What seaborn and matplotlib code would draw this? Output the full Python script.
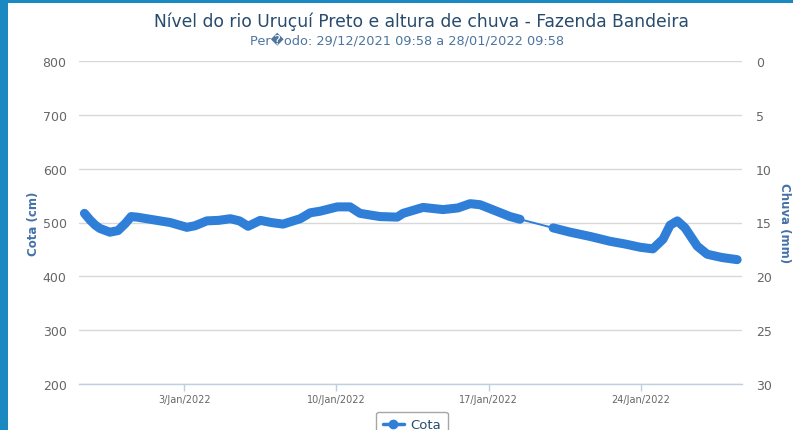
import matplotlib
matplotlib.use("Agg")
import pandas as pd
import seaborn as sns
import matplotlib.pyplot as plt
import matplotlib.dates as mdates
from matplotlib.patches import Rectangle
from matplotlib.lines import Line2D
from matplotlib.ticker import FuncFormatter

# ---- data ----
dates = [
    "2021-12-29 10:00", "2021-12-29 16:00", "2021-12-29 22:00", "2021-12-30 03:00",
    "2021-12-30 14:00", "2021-12-30 23:00", "2021-12-31 07:00", "2021-12-31 13:30",
    "2021-12-31 20:00", "2022-01-01 10:30", "2022-01-02 08:30", "2022-01-03 03:00",
    "2022-01-03 12:00", "2022-01-04 01:00", "2022-01-04 14:00", "2022-01-05 03:00",
    "2022-01-05 13:00", "2022-01-05 22:30", "2022-01-06 12:00", "2022-01-07 00:00",
    "2022-01-07 13:00", "2022-01-08 08:00", "2022-01-08 19:00", "2022-01-09 06:00",
    "2022-01-10 01:00", "2022-01-10 15:00", "2022-01-11 02:00", "2022-01-12 00:00",
    "2022-01-12 19:00", "2022-01-13 01:30", "2022-01-13 23:30", "2022-01-14 21:30",
    "2022-01-15 14:00", "2022-01-16 03:30", "2022-01-16 14:30", "2022-01-17 07:00",
    "2022-01-17 23:30", "2022-01-18 10:30",
    "2022-01-19 23:00", "2022-01-20 17:45", "2022-01-21 16:00", "2022-01-22 14:00",
    "2022-01-23 06:30", "2022-01-23 23:00", "2022-01-24 13:00", "2022-01-25 00:15",
    "2022-01-25 08:00", "2022-01-25 16:00", "2022-01-26 00:30", "2022-01-26 14:00",
    "2022-01-27 01:00", "2022-01-27 17:00", "2022-01-28 10:00",
]
cota = [
    517, 505, 495, 489,
    482, 485, 498, 511,
    510, 506, 500, 491,
    494, 503, 504, 507,
    503, 493, 504, 500,
    497, 507, 518, 521,
    529, 529, 517, 511,
    510, 517, 528, 524,
    527, 535, 533, 522,
    511, 506,
    490, 482, 474, 465,
    460, 454, 451, 469,
    495, 503, 490, 456,
    441, 435, 431,
]
left_ticks = [200, 300, 400, 500, 600, 700, 800]
right_ticks = [0, 5, 10, 15, 20, 25, 30]
date_ticks = ["2022-01-03", "2022-01-10", "2022-01-17", "2022-01-24"]

title = "Nível do rio Uruçuí Preto e altura de chuva - Fazenda Bandeira"
subtitle = "Per\ufffdodo: 29/12/2021 09:58 a 28/01/2022 09:58"
series_name = "Cota"

df = pd.DataFrame({"data": pd.to_datetime(dates), "cota": cota})
# split into continuous segments where there is a data gap
gap = df["data"].diff() > pd.Timedelta(hours=33)
df["seg"] = gap.cumsum()

# ---- style ----
sns.set_theme(style="white")
plt.rcParams["font.family"] = ["DejaVu Sans"]

W, H = 793, 431
fig = plt.figure(figsize=(W / 100, H / 100), dpi=100)
fig.patch.set_facecolor("#1a89c1")
fig.add_artist(Rectangle((8 / W, 0), 1, 1 - 4 / H, transform=fig.transFigure,
                         facecolor="white", edgecolor="none", zorder=0))

ax = fig.add_axes([79 / W, 1 - 385 / H, (742 - 79) / W, (385 - 62) / H])
ax.set_facecolor("white")
ax.set_zorder(2)

color = "#2f7ed8"
sns.lineplot(data=df, x="data", y="cota", ax=ax, color=color, linewidth=1.4,
             legend=False, zorder=3)
for _, seg in df.groupby("seg"):
    sns.lineplot(data=seg, x="data", y="cota", ax=ax, color=color, linewidth=6.5,
                 legend=False, zorder=4, solid_capstyle="round", solid_joinstyle="round")

ax.set_ylim(200, 800)
ax.set_yticks(left_ticks)
ax.set_xlim(pd.Timestamp("2021-12-29 04:00"), pd.Timestamp("2022-01-28 15:20"))
ax.set_xticks(pd.to_datetime(date_ticks))
ax.xaxis.set_major_formatter(FuncFormatter(
    lambda v, p: (lambda d: f"{d.day}/{d:%b}/{d.year}")(mdates.num2date(v))))

ax.grid(axis="y", color="#d8d8d8", linewidth=1)
ax.grid(axis="x", visible=False)
for s in ["left", "right", "top"]:
    ax.spines[s].set_visible(False)
ax.spines["bottom"].set_color("#c0d0e0")
ax.spines["bottom"].set_linewidth(1)
ax.tick_params(axis="x", length=5, width=1, color="#c0d0e0", labelsize=7,
               labelcolor="#666666", pad=2, direction="out", bottom=True)
ax.tick_params(axis="y", length=0, labelsize=9, labelcolor="#666666", pad=9)
ax.set_xlabel("")
ax.set_ylabel("Cota (cm)", color="#4572a7", fontsize=8.5, fontweight="bold", labelpad=2)

ax2 = ax.twinx()
ax2.set_ylim(30, 0)
ax2.set_yticks(right_ticks)
for s in ["left", "right", "top", "bottom"]:
    ax2.spines[s].set_visible(False)
ax2.tick_params(axis="y", length=0, labelsize=9, labelcolor="#666666", pad=10)
ax2.set_ylabel("Chuva (mm)", color="#4572a7", fontsize=8.5, fontweight="bold",
               rotation=270, labelpad=14)
ax2.grid(False)

fig.text(421 / W, 1 - 22 / H, title, ha="center", va="center", fontsize=12.3, color="#274b6d")
fig.text(407 / W, 1 - 41 / H, subtitle, ha="center", va="center", fontsize=9.3, color="#4d759e")

handle = Line2D([], [], color=color, linewidth=2.5, marker="o", markersize=6)
leg = fig.legend([handle], [series_name], loc="upper center",
                 bbox_to_anchor=(412 / W, 1 - 406 / H), frameon=True, fancybox=True,
                 fontsize=9.5, labelcolor="#274b6d", edgecolor="#909090",
                 handlelength=1.6, borderpad=0.5, handletextpad=0.5)
leg.get_frame().set_linewidth(1)

fig.savefig("out.png", dpi=100)
